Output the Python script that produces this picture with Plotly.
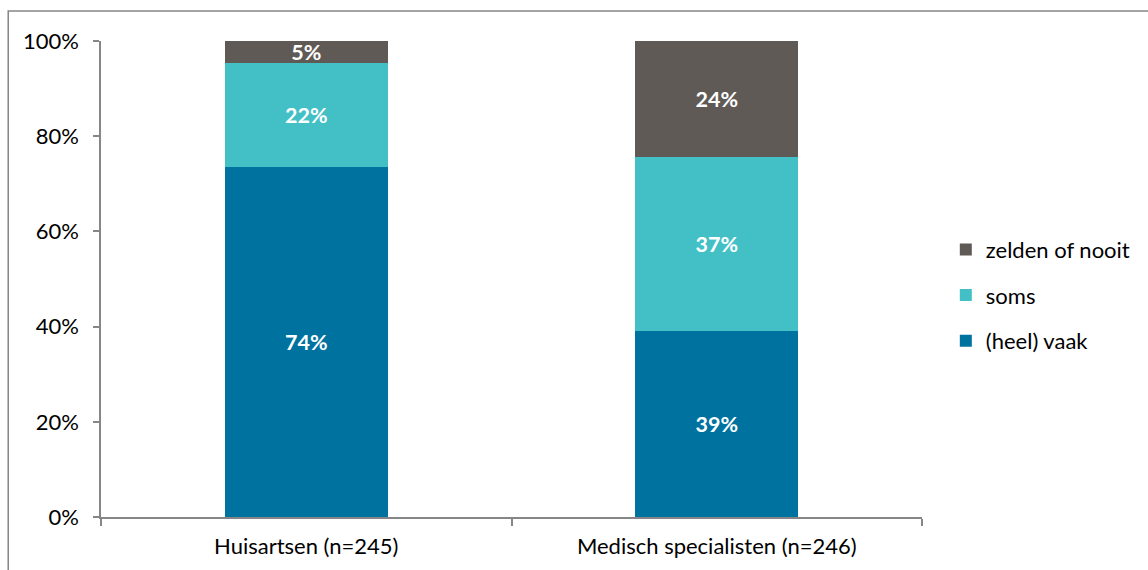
import plotly.graph_objects as go

categories = ["Huisartsen (n=245)", "Medisch specialisten (n=246)"]
vaak = [73.6, 39.1]
soms = [21.8, 36.6]
zelden = [4.6, 24.3]
series_names = ["(heel) vaak", "soms", "zelden of nooit"]
legend_ranks = [3, 2, 1]
colors = ["#00729F", "#42C0C6", "#5F5A56"]
y_ticks = [0, 20, 40, 60, 80, 100]
y_ticklabels = [f"{v}%" for v in y_ticks]

FONT = "Lato"
FS = 22
fig = go.Figure()
for name, vals, col, rank in zip(series_names, [vaak, soms, zelden], colors, legend_ranks):
    fig.add_trace(go.Bar(
        x=categories, y=vals, name=name, legendgroup=name, legendrank=rank,
        marker=dict(color=col, line=dict(width=0)),
        texttemplate="%{y:.0f}%", textposition="inside",
        insidetextanchor="middle",
        textfont=dict(family=FONT, size=21.5, color="white", weight="bold"),
    ))

fig.update_layout(
    width=1148, height=570,
    margin=dict(l=101, r=224, t=41, b=53),
    barmode="stack", bargap=0.604,
    plot_bgcolor="white", paper_bgcolor="white",
    font=dict(family=FONT, size=FS, color="#000000"),
    uniformtext=dict(minsize=21.5, mode="show"),
    legend=dict(x=1.029, xanchor="left", y=0.466, yanchor="middle",
                traceorder="grouped", tracegroupgap=14,
                font=dict(family=FONT, size=FS), itemwidth=30),
    showlegend=True,
    xaxis=dict(showline=True, linecolor="#868686", linewidth=1.5,
               ticks="outside", tickson="boundaries", ticklen=7,
               tickcolor="#868686", tickwidth=1.5, showgrid=False,
               ticklabelstandoff=9),
    yaxis=dict(range=[0, 100], tickvals=y_ticks, ticktext=y_ticklabels,
               showline=True, linecolor="#868686", linewidth=1.5,
               ticks="outside", ticklen=6, tickcolor="#868686", tickwidth=1.5,
               showgrid=False, zeroline=False, ticklabelstandoff=10),
    shapes=[dict(type="rect", xref="paper", yref="paper",
                 x0=-0.113, x1=1.3, y0=-0.15, y1=1.063,
                 line=dict(color="#868686", width=1.5), layer="below")],
)

fig.write_html("out.html")
